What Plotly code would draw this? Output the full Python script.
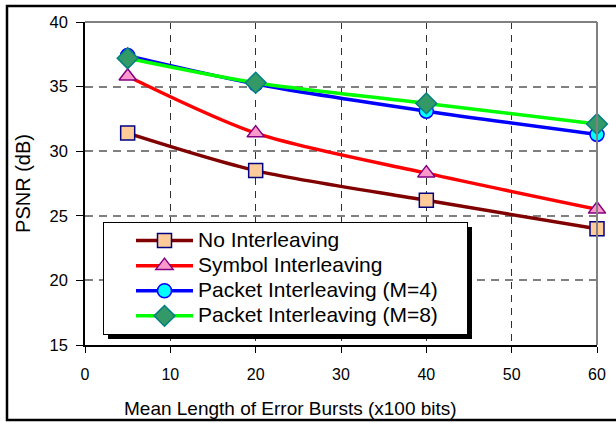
import plotly.graph_objects as go

x_vals = [5, 20, 40, 60]
no_interleaving = [31.4, 28.5, 26.2, 24.0]
symbol_interleaving = [35.8, 31.4, 28.3, 25.5]
packet_m4 = [37.4, 35.2, 33.1, 31.3]
packet_m8 = [37.2, 35.3, 33.7, 32.1]
series_names = ["No Interleaving", "Symbol Interleaving",
                "Packet Interleaving (M=4)", "Packet Interleaving (M=8)"]
x_title = "Mean Length of Error Bursts (x100 bits)"
y_title = "PSNR (dB)"

styles = [
    ("#800000", "square", "#FFCC99", "#000080", 14),
    ("#FF0000", "triangle-up", "#FF99CC", "#800080", 15),
    ("#0000FF", "circle", "#00FFFF", "#0000FF", 14),
    ("#00FF00", "diamond", "#339966", "#008080", 16),
]

FONT = "Liberation Sans, Arial, sans-serif"

fig = go.Figure()
for name, ys, (lc, sym, fc, bc, sz) in zip(series_names,
                                           [no_interleaving, symbol_interleaving, packet_m4, packet_m8],
                                           styles):
    fig.add_trace(go.Scatter(
        x=x_vals, y=ys,
        name='<span style="font-size:21px">' + name + '&nbsp;&nbsp;&nbsp;&nbsp;</span>',
        mode="lines+markers", cliponaxis=False,
        line=dict(color=lc, width=3.5, shape="spline", smoothing=0.8),
        marker=dict(symbol=sym, size=sz, color=fc, line=dict(color=bc, width=1.5)),
    ))

L, R, T, B = 85, 19, 22, 78
W, H = 616, 423
pw, ph = W - L - R, H - T - B

def px(xp):
    return (xp - L) / pw

def py(yp):
    return (H - B - yp) / ph

shapes = [
    dict(type="rect", xref="paper", yref="paper", x0=px(7), x1=px(660), y0=py(420), y1=py(6),
         line=dict(color="black", width=2.5), layer="below"),
    dict(type="line", xref="paper", yref="paper", x0=0, x1=1, y0=1, y1=1,
         line=dict(color="#808080", width=2)),
    dict(type="line", xref="paper", yref="paper", x0=1, x1=1, y0=0, y1=1,
         line=dict(color="#808080", width=2)),
    dict(type="rect", xref="paper", yref="paper", x0=px(108), x1=px(472), y0=py(339), y1=py(227),
         fillcolor="black", line=dict(width=0), layer="above"),
]

fig.update_layout(
    width=W, height=H,
    margin=dict(l=L, r=R, t=T, b=B, autoexpand=False),
    paper_bgcolor="white", plot_bgcolor="white",
    font=dict(family=FONT, color="black", size=16),
    shapes=shapes,
    annotations=[dict(text=x_title, xref="paper", yref="paper", x=px(290), y=py(408),
                      xanchor="center", yanchor="middle", showarrow=False,
                      font=dict(size=19, family=FONT, color="black"))],
    showlegend=True,
    legend=dict(
        x=px(103), y=py(222), xanchor="left", yanchor="top",
        bgcolor="white", bordercolor="black", borderwidth=1,
        font=dict(family=FONT, size=17, color="black"),
        itemwidth=57, tracegroupgap=0, indentation=27,
    ),
    xaxis=dict(
        range=[0, 60], tickvals=[0, 10, 20, 30, 40, 50, 60],
        showgrid=True, gridcolor="#303030", griddash="7px,6px", gridwidth=1,
        showline=True, linecolor="black", linewidth=1.5,
        ticks="outside", ticklen=6, tickcolor="black", automargin=False,
        tickfont=dict(size=16), zeroline=False, ticklabelstandoff=8,
    ),
    yaxis=dict(
        range=[15, 40], tickvals=[15, 20, 25, 30, 35, 40],
        showgrid=True, gridcolor="#808080", griddash="8px,6px", gridwidth=1.5,
        showline=True, linecolor="black", linewidth=1.5,
        ticks="outside", ticklen=7, tickcolor="black", automargin=False,
        tickfont=dict(size=16.5), zeroline=False, ticklabelstandoff=5,
        title=dict(text=y_title, font=dict(size=20), standoff=14),
    ),
)

fig.write_html("out.html")
